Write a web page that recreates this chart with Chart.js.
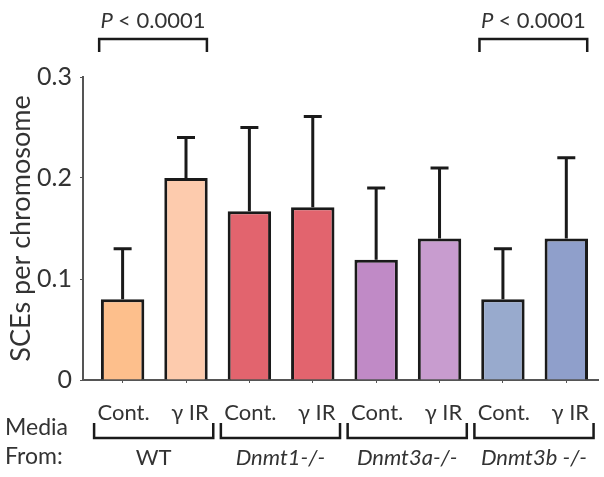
<!DOCTYPE html>
<html>
<head>
<meta charset="utf-8">
<script src="https://cdn.jsdelivr.net/npm/chart.js@4"></script>
<style>
  html, body { margin: 0; padding: 0; background: #fff; }
  #wrap { width: 604px; height: 477px; }
</style>
</head>
<body>
<div id="wrap"><canvas id="myChart" width="604" height="477"></canvas></div>
<script>
const groups = ['WT', 'Dnmt1-/-', 'Dnmt3a-/-', 'Dnmt3b -/-'];
const italicGroup = [false, true, true, true];
const treatments = ['Cont.', 'γ IR'];
const means = [0.08, 0.20, 0.167, 0.171, 0.119, 0.14, 0.08, 0.14];
const errors = [0.05, 0.04, 0.083, 0.09, 0.071, 0.07, 0.05, 0.08];
const barColors = ['#FDBF8C', '#FDCBAD', '#E2646E', '#E2646E', '#C08AC6', '#C89CCF', '#98AACD', '#8F9FCB'];
const yTicks = [0, 0.1, 0.2, 0.3];
const pGroups = [0, 3];
const pLabel = '< 0.0001';

const FONT = 'Lato, "Open Sans", sans-serif';
const INK = '#1a1a1a';

const extras = {
  id: 'extras',
  afterDatasetsDraw(chart) {
    const c = chart.ctx;
    const x = chart.scales.x, y = chart.scales.y;
    const unit = x.getPixelForValue(1) - x.getPixelForValue(0);
    c.save();
    c.strokeStyle = INK;
    c.fillStyle = '#333';

    // error bars
    c.lineWidth = 3;
    means.forEach((m, i) => {
      const px = x.getPixelForValue(i);
      const top = y.getPixelForValue(m + errors[i]);
      c.beginPath();
      c.moveTo(px, y.getPixelForValue(m));
      c.lineTo(px, top);
      c.moveTo(px - 9, top);
      c.lineTo(px + 9, top);
      c.stroke();
    });

    // treatment labels
    c.font = '22px ' + FONT;
    c.textAlign = 'center';
    c.textBaseline = 'middle';
    means.forEach((m, i) => {
      c.fillText(treatments[i % 2], x.getPixelForValue(i) + (i % 2 ? 4 : 1), 413);
    });

    // group brackets and names
    c.lineWidth = 2.5;
    groups.forEach((g, k) => {
      const a = x.getPixelForValue(2 * k) - 0.45 * unit;
      const b = x.getPixelForValue(2 * k + 1) + 0.43 * unit;
      c.beginPath();
      c.moveTo(a, 423);
      c.lineTo(a, 438);
      c.lineTo(b, 438);
      c.lineTo(b, 423);
      c.stroke();
      c.font = (italicGroup[k] ? 'italic ' : '') + '22px ' + FONT;
      c.fillText(g, (a + b) / 2, 458);
    });

    c.textAlign = 'left';
    c.font = '23px ' + FONT;
    c.fillText('Media', 5, 428);
    c.fillText('From:', 5, 457);

    // significance brackets
    pGroups.forEach(k => {
      const a = x.getPixelForValue(2 * k) - 0.37 * unit;
      const b = x.getPixelForValue(2 * k + 1) + 0.33 * unit;
      c.lineWidth = 2.5;
      c.beginPath();
      c.moveTo(a, 52);
      c.lineTo(a, 39);
      c.lineTo(b, 39);
      c.lineTo(b, 52);
      c.stroke();
      c.font = 'italic 22px ' + FONT;
      const wP = c.measureText('P ').width;
      c.font = '22px ' + FONT;
      const wR = c.measureText(pLabel).width;
      const sx = (a + b) / 2 - (wP + wR) / 2;
      c.textAlign = 'left';
      c.font = 'italic 22px ' + FONT;
      c.fillText('P', sx, 21);
      c.font = '22px ' + FONT;
      c.fillText(pLabel, sx + wP, 21);
    });

    // y title
    c.translate(21, (y.top + y.bottom) / 2);
    c.rotate(-Math.PI / 2);
    c.textAlign = 'center';
    c.font = '27px ' + FONT;
    c.fillText('SCEs per chromosome', 0, 0);
    c.restore();
  }
};

const ctx = document.getElementById('myChart').getContext('2d');
const myChart = new Chart(ctx, {
  type: 'bar',
  data: {
    datasets: [{
      data: means.map((v, i) => ({ x: i, y: v })),
      backgroundColor: barColors,
      borderColor: INK,
      borderWidth: 3,
      borderSkipped: 'bottom',
      barPercentage: 0.685,
      categoryPercentage: 1
    }]
  },
  options: {
    responsive: false,
    animation: false,
    layout: { padding: { top: 77, right: 6, left: 0, bottom: 0 } },
    plugins: { legend: { display: false }, tooltip: { enabled: false } },
    scales: {
      x: {
        type: 'linear',
        offset: false,
        min: -0.625,
        max: 7.5,
        afterBuildTicks: s => { s.ticks = means.map((m, i) => ({ value: i })); },
        afterFit: s => { s.height = 97; },
        ticks: { display: false },
        grid: { offset: false, drawOnChartArea: false, drawTicks: true, tickLength: 3, color: '#555', lineWidth: 1 },
        border: { display: true, color: '#555', width: 2 }
      },
      y: {
        min: 0,
        max: 0.3,
        afterBuildTicks: s => { s.ticks = yTicks.map(v => ({ value: v })); },
        afterFit: s => { s.width = 83; },
        ticks: {
          color: '#333',
          padding: 8,
          font: { family: FONT, size: 25 },
          callback: v => v === 0 ? '0' : v.toFixed(1)
        },
        grid: { drawOnChartArea: false, drawTicks: true, tickLength: 3, color: '#555', lineWidth: 1 },
        border: { display: true, color: '#555', width: 2 }
      }
    }
  },
  plugins: [extras]
});
</script>
</body>
</html>
